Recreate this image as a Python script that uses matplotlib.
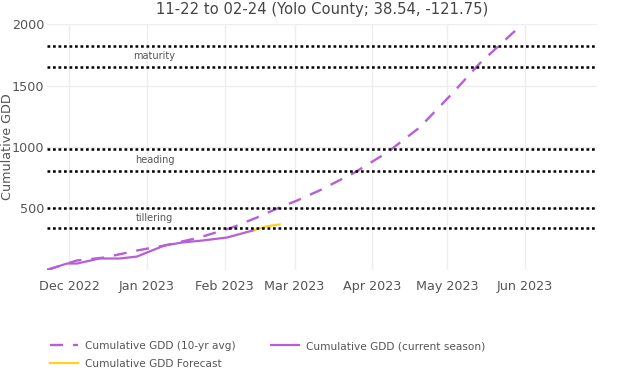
import matplotlib
matplotlib.use("Agg")
import matplotlib.pyplot as plt
import matplotlib.dates as mdates
import pandas as pd

# 10-yr average cumulative GDD
avg_dates = ["2022-11-22", "2022-12-04", "2022-12-15", "2022-12-28", "2023-01-08",
             "2023-01-22", "2023-02-04", "2023-02-14", "2023-02-22", "2023-03-02",
             "2023-03-11", "2023-03-25", "2023-04-07", "2023-04-20", "2023-05-03",
             "2023-05-14", "2023-05-31"]
avg_gdd = [0, 77, 101, 158, 199, 264, 345, 427, 500, 565, 647, 793, 956, 1160, 1436, 1681, 2000]

# current season
cur_dates = ["2022-11-22", "2022-11-30", "2022-12-04", "2022-12-13", "2022-12-21",
             "2022-12-28", "2023-01-01", "2023-01-08", "2023-01-15", "2023-01-23",
             "2023-02-02", "2023-02-13"]
cur_gdd = [0, 52, 52, 93, 93, 109, 142, 199, 223, 239, 264, 325]

# forecast
fc_dates = ["2023-02-13", "2023-02-18", "2023-02-23"]
fc_gdd = [325, 356, 370]

# growth stage bands
stage_names = ["tillering", "heading", "maturity"]
stage_low = [340, 805, 1655]
stage_high = [500, 980, 1825]
stage_label_date = "2023-01-04"

title = "11-22 to 02-24 (Yolo County; 38.54, -121.75)"
purple = "#b65fd6"
gold = "#ffd21f"
txt = "#555555"

fig = plt.figure(figsize=(6.4, 3.77), dpi=100)
ax = fig.add_axes([0.0734, 0.284, 0.860, 0.652])

x_avg = pd.to_datetime(avg_dates)
x_cur = pd.to_datetime(cur_dates)
x_fc = pd.to_datetime(fc_dates)

l_avg, = ax.plot(x_avg, avg_gdd, color=purple, lw=1.7, dashes=(5.5, 4.2),
                 label="Cumulative GDD (10-yr avg)", zorder=3)
l_cur, = ax.plot(x_cur, cur_gdd, color=purple, lw=1.6,
                 label="Cumulative GDD (current season)", zorder=4)
l_fc, = ax.plot(x_fc, fc_gdd, color=gold, lw=1.6,
                label="Cumulative GDD Forecast", zorder=4)

for name, lo, hi in zip(stage_names, stage_low, stage_high):
    for v in (lo, hi):
        ax.axhline(v, color="black", lw=1.8, dashes=(1.1, 1.1), zorder=5)
    ax.text(pd.Timestamp(stage_label_date), (lo + hi) / 2, name, ha="center",
            va="center", fontsize=7, color=txt, zorder=6)

ax.set_xlim(pd.Timestamp("2022-11-22"), pd.Timestamp("2023-06-30"))
ax.set_ylim(0, 2000)
ax.set_yticks([500, 1000, 1500, 2000])
ax.xaxis.set_major_locator(mdates.MonthLocator())
ax.xaxis.set_major_formatter(mdates.DateFormatter("%b %Y"))
ax.tick_params(axis="both", length=0, labelsize=9.2, labelcolor=txt)
ax.tick_params(axis="x", pad=7)
ax.tick_params(axis="y", pad=2)
ax.grid(True, color="#eeeeee", lw=1)
ax.set_axisbelow(True)
for s in ax.spines.values():
    s.set_visible(False)

ax.set_ylabel("Cumulative GDD", fontsize=9.2, color=txt)
ax.yaxis.set_label_coords(-0.06, 0.5)
ax.set_title(title, fontsize=10.6, color="#444444", pad=7)

fig.legend(handles=[l_avg, l_fc, l_cur], loc="upper left",
           bbox_to_anchor=(0.078, 0.095), bbox_transform=fig.transFigure,
           ncol=2, frameon=False, fontsize=7.6, labelcolor=txt,
           handlelength=2.7, handletextpad=0.6, columnspacing=3.35,
           labelspacing=0.75, borderaxespad=0, borderpad=0)

fig.savefig("out.png", dpi=100)
